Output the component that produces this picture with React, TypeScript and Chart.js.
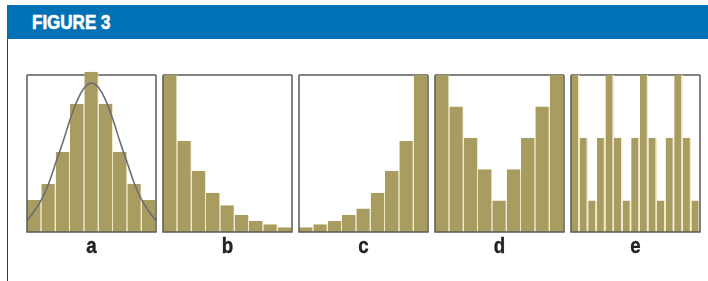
import React, { useEffect, useRef } from 'react';
import { Chart, registerables } from 'chart.js';

Chart.register(...registerables);

// ---- data ----
const binsNine = ['1', '2', '3', '4', '5', '6', '7', '8', '9'];
const binsFifteen = ['1', '2', '3', '4', '5', '6', '7', '8', '9', '10', '11', '12', '13', '14', '15'];
const valuesA = [2, 3, 5, 8, 10, 8, 5, 3, 2];
const curveAX = [-0.5, 0, 0.5, 1, 1.5, 2, 2.5, 3, 3.5, 4, 4.5, 5, 5.5, 6, 6.5, 7, 7.5, 8, 8.5];
const curveAY = [0.7, 1.3, 2.0, 3.0, 4.3, 5.6, 7.0, 8.2, 9.0, 9.3, 9.0, 8.2, 7.0, 5.6, 4.3, 3.0, 2.0, 1.3, 0.7];
const valuesB = [100, 58, 39, 25, 17, 11, 7, 5, 3];
const valuesC = [3, 5, 7, 11, 15, 25, 39, 58, 100];
const valuesD = [10, 8, 6, 4, 2, 4, 6, 8, 10];
const valuesE = [10, 6, 2, 6, 10, 6, 2, 6, 10, 6, 2, 6, 10, 6, 2];
const panelLabels = ['a', 'b', 'c', 'd', 'e'];
const titleText = 'FIGURE 3';

// ---- styles ----
const BAR = '#a99c60';
const GAP = '#f1eac4';
const FRAME = '#5a5a55';
const CURVE = '#6c6c74';
const BLUE = '#0071b4';
const FONT = '"Liberation Sans", Arial, sans-serif';

const PAD = 5;
const PANEL_W = 129;
const PANEL_H = 157;
const PANEL_TOP = 74.5;

const framePlugin = {
  id: 'panelFrame',
  beforeDatasetsDraw(chart: any) {
    const { ctx, chartArea: a } = chart;
    ctx.save();
    ctx.strokeStyle = FRAME;
    ctx.lineWidth = 1.5;
    ctx.beginPath();
    ctx.moveTo(a.left, a.top);
    ctx.lineTo(a.right, a.top);
    ctx.stroke();
    ctx.restore();
  },
  afterDatasetsDraw(chart: any) {
    const { ctx, chartArea: a } = chart;
    ctx.save();
    ctx.strokeStyle = FRAME;
    ctx.lineWidth = 1.5;
    ctx.beginPath();
    ctx.moveTo(a.left, a.top);
    ctx.lineTo(a.left, a.bottom);
    ctx.lineTo(a.right, a.bottom);
    ctx.lineTo(a.right, a.top);
    ctx.stroke();
    ctx.restore();
  },
};

type PanelProps = {
  left: number;
  labels: string[];
  values: number[];
  yMax: number;
  gap: number;
  curveX?: number[];
  curveY?: number[];
};

function Panel({ left, labels, values, yMax, gap, curveX, curveY }: PanelProps) {
  const ref = useRef<HTMLCanvasElement | null>(null);
  useEffect(() => {
    if (!ref.current) return;
    const datasets: any[] = [
      {
        type: 'bar',
        data: values,
        backgroundColor: BAR,
        borderColor: GAP,
        borderWidth: { top: 0, left: 0, bottom: 0, right: gap },
        borderSkipped: false,
        barPercentage: 1,
        categoryPercentage: 1,
        grouped: false,
        inflateAmount: 0,
        clip: false,
        order: 2,
      },
    ];
    const scales: any = {
      x: { display: false },
      y: { display: false, min: 0, max: yMax },
    };
    if (curveX && curveY) {
      datasets.push({
        type: 'line',
        data: curveX.map((x, i) => ({ x, y: curveY[i] })),
        xAxisID: 'xl',
        borderColor: CURVE,
        borderWidth: 1.6,
        pointRadius: 0,
        tension: 0.4,
        fill: false,
        clip: false,
        order: 1,
      });
      scales.xl = {
        type: 'linear',
        display: false,
        offset: false,
        grid: { offset: false },
        min: -0.5,
        max: labels.length - 0.5,
      };
    }
    const chart = new Chart(ref.current, {
      type: 'bar',
      data: { labels, datasets },
      options: {
        animation: false,
        responsive: false,
        devicePixelRatio: 1,
        layout: { padding: PAD },
        plugins: { legend: { display: false }, tooltip: { enabled: false } },
        events: [],
        scales,
      },
      plugins: [framePlugin],
    } as any);
    return () => chart.destroy();
  }, []);
  return (
    <canvas
      ref={ref}
      width={PANEL_W + 2 * PAD}
      height={PANEL_H + 2 * PAD}
      style={{
        position: 'absolute',
        left: left - PAD,
        top: PANEL_TOP - PAD,
        width: PANEL_W + 2 * PAD,
        height: PANEL_H + 2 * PAD,
      }}
    />
  );
}

const panelLefts = [27, 162.5, 299, 434.5, 571];

export default function App() {
  const panels: PanelProps[] = [
    { left: panelLefts[0], labels: binsNine, values: valuesA, yMax: 9.8, gap: 1, curveX: curveAX, curveY: curveAY },
    { left: panelLefts[1], labels: binsNine, values: valuesB, yMax: 100, gap: 1 },
    { left: panelLefts[2], labels: binsNine, values: valuesC, yMax: 100, gap: 1 },
    { left: panelLefts[3], labels: binsNine, values: valuesD, yMax: 10, gap: 1 },
    { left: panelLefts[4], labels: binsFifteen, values: valuesE, yMax: 10, gap: 1.6 },
  ];
  return (
    <div style={{ position: 'absolute', left: 0, top: 0, width: 708, height: 281, background: '#fff', overflow: 'hidden' }}>
      <div style={{ position: 'absolute', left: 7, top: 5, width: 701, height: 34, background: BLUE }} />
      <div
        style={{
          position: 'absolute',
          left: 32,
          top: 12.4,
          fontFamily: FONT,
          fontWeight: 700,
          fontSize: 20,
          lineHeight: '20px',
          color: '#fff',
          whiteSpace: 'nowrap',
          transform: 'scaleX(0.85)',
          transformOrigin: 'left top',
          WebkitTextStroke: '0.6px #fff',
        }}
      >
        {titleText}
      </div>
      <div style={{ position: 'absolute', left: 6.5, top: 39, width: 1, height: 242, background: '#3a3a3a' }} />
      {panels.map((p, i) => (
        <Panel key={i} {...p} />
      ))}
      {panelLabels.map((t, i) => (
        <div
          key={t}
          style={{
            position: 'absolute',
            left: panelLefts[i],
            width: PANEL_W,
            top: 234.7,
            textAlign: 'center',
            fontFamily: FONT,
            fontWeight: 700,
            fontSize: 22,
            lineHeight: '22px',
            color: '#222',
            transform: 'scaleX(0.85)',
            WebkitTextStroke: '0.4px #222',
          }}
        >
          {t}
        </div>
      ))}
    </div>
  );
}
